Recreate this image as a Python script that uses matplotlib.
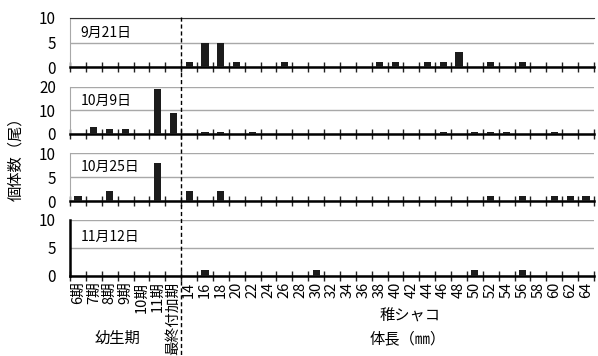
import matplotlib.pyplot as plt
import matplotlib.transforms as mtransforms
import numpy as np

plt.rcParams['font.family'] = ['Noto Sans CJK JP', 'DejaVu Sans']

# 幼生期 + 稚シャコの体長階級
stages = ['6期', '7期', '8期', '9期', '10期', '11期', '最終付加期']
lengths = ['14', '16', '18', '20', '22', '24', '26', '28', '30', '32', '34', '36', '38',
           '40', '42', '44', '46', '48', '50', '52', '54', '56', '58', '60', '62', '64']
categories = stages + lengths

dates = ['9月21日', '10月9日', '10月25日', '11月12日']
sep21 = [0, 0, 0, 0, 0, 0, 0,
         1, 5, 5, 1, 0, 0, 1, 0, 0, 0, 0, 0, 1, 1, 0, 1, 1, 3, 0, 1, 0, 1, 0, 0, 0, 0]
oct09 = [0, 3, 2, 2, 0, 19, 9,
         0, 1, 1, 0, 1, 0, 0, 0, 0, 0, 0, 0, 0, 0, 0, 0, 1, 0, 1, 1, 1, 0, 0, 1, 0, 0]
oct25 = [1, 0, 2, 0, 0, 8, 0,
         2, 0, 2, 0, 0, 0, 0, 0, 0, 0, 0, 0, 0, 0, 0, 0, 0, 0, 0, 1, 0, 1, 0, 1, 1, 1]
nov12 = [0, 0, 0, 0, 0, 0, 0,
         0, 1, 0, 0, 0, 0, 0, 0, 1, 0, 0, 0, 0, 0, 0, 0, 0, 0, 1, 0, 0, 1, 0, 0, 0, 0]
counts = [sep21, oct09, oct25, nov12]
yticks = [[0, 5, 10], [0, 10, 20], [0, 5, 10], [0, 5, 10]]

# パネル位置 (ピクセル: 上端, 下端)
W, H = 598, 356
panels = [(18, 67), (87, 134), (153, 201), (220, 276)]
left_px, right_px = 70, 594


def drawPanel(fig, top, bottom, values, ticks, date, last):
    ax = fig.add_axes([left_px / W, 1 - bottom / H,
                       (right_px - left_px) / W, (bottom - top) / H])
    x = np.arange(len(categories))
    ax.bar(x, values, width=0.45, color='#1c1c1c', zorder=3)
    ax.set_xlim(-0.5, len(categories) - 0.5)
    ax.set_ylim(0, ticks[-1])
    ax.set_yticks(ticks)
    ax.yaxis.grid(True, color='#a8a8a8', lw=1)
    ax.set_axisbelow(True)
    ax.tick_params(axis='y', length=0, pad=10, labelsize=11)

    # 階級の境目に目盛り
    ax.set_xticks(np.arange(len(categories) + 1) - 0.5, minor=True)
    ax.tick_params(axis='x', which='minor', direction='inout', length=7,
                   width=1, color='#222222')
    ax.set_xticks(x)
    ax.tick_params(axis='x', which='major', length=0, pad=4)
    if last:
        ax.set_xticklabels(categories, rotation=90, fontsize=10.5)
    else:
        ax.set_xticklabels([])

    ax.spines['right'].set_visible(False)
    ax.spines['top'].set_visible(top == panels[0][0])
    ax.spines['top'].set_color('#333333')
    ax.spines['bottom'].set_linewidth(1.8)
    if last:
        ax.spines['left'].set_linewidth(1.8)
        ax.spines['left'].set_color('black')
    else:
        ax.spines['left'].set_color('#a8a8a8')

    ax.text(0.02, 0.70, date, transform=ax.transAxes, fontsize=10, va='center')
    return ax


fig = plt.figure(figsize=(W / 100, H / 100), dpi=100)
axes = []
for i, (top, bottom) in enumerate(panels):
    axes.append(drawPanel(fig, top, bottom, counts[i], yticks[i], dates[i],
                          i == len(panels) - 1))

# 幼生期と稚シャコの区切り
trans = mtransforms.blended_transform_factory(axes[-1].transData, fig.transFigure)
fig.add_artist(plt.Line2D([len(stages) - 0.5] * 2, [1 - 17 / H, 0], transform=trans,
                          color='black', lw=1, linestyle=(0, (3, 2))))

fig.text(16 / W, 1 - 155 / H, '個体数（尾）', rotation=90, fontsize=11,
         ha='center', va='center')
fig.text(117 / W, 1 - 338 / H, '幼生期', fontsize=11, ha='center', va='center')
fig.text(410 / W, 1 - 316 / H, '稚シャコ', fontsize=11, ha='center', va='center')
fig.text(408 / W, 1 - 339 / H, '体長（㎜）', fontsize=11, ha='center', va='center')

fig.savefig('out.png', dpi=100)
